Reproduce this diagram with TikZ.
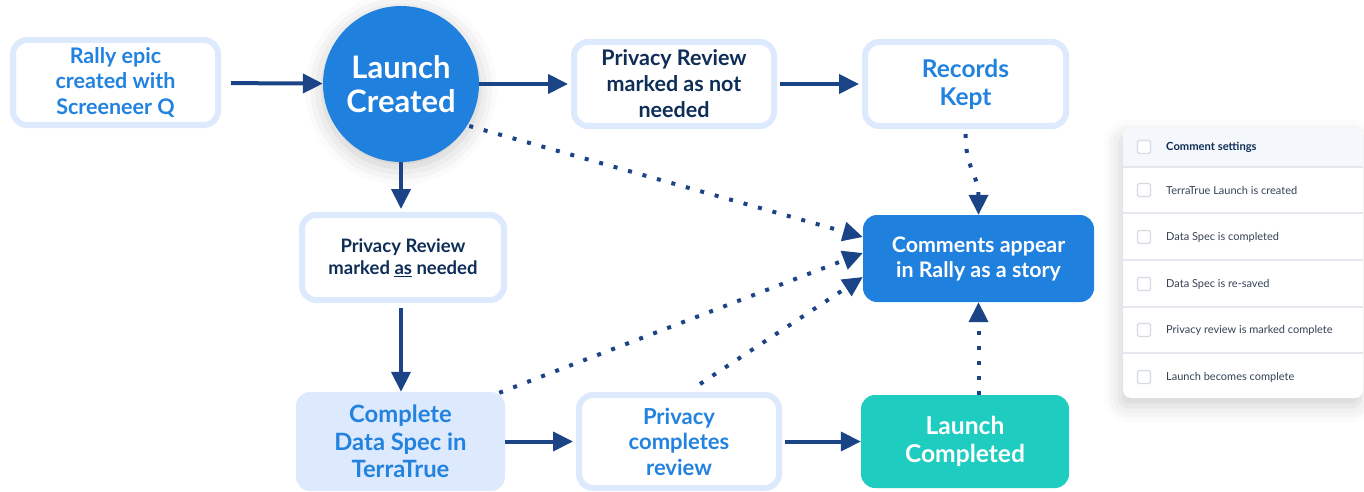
\documentclass[tikz,border=0pt]{standalone}
\usepackage{fontspec}
\setmainfont{Lato}
\usetikzlibrary{arrows.meta,shadows.blur,calc}

\definecolor{brandblue}{RGB}{31,128,222}
\definecolor{textblue}{RGB}{34,130,224}
\definecolor{navy}{RGB}{15,46,87}
\definecolor{arrownavy}{RGB}{27,68,134}
\definecolor{paleblue}{RGB}{221,233,252}
\definecolor{launchteal}{RGB}{30,205,192}
\definecolor{headbg}{RGB}{244,247,251}
\definecolor{rulegray}{RGB}{228,232,238}
\definecolor{boxgray}{RGB}{214,218,225}
\definecolor{paneltext}{RGB}{52,66,86}

\tikzset{
  stepbox/.style={draw=paleblue, line width=6pt, rounded corners=14pt, fill=white,
    inner sep=0pt, align=center},
  solidbox/.style={rounded corners=14pt, inner sep=0pt, align=center},
  arr/.style={draw=arrownavy, line width=4pt, -{Triangle[length=20pt,width=19pt]}},
  dotarr/.style={arr, line cap=butt, dash pattern=on 4pt off 11pt},
  tick/.style={draw=boxgray, line width=1.1pt, rounded corners=1.5pt, fill=white,
    minimum size=13pt, inner sep=0pt},
  rowtext/.style={anchor=west, inner sep=0pt, text=paneltext,
    font=\fontsize{11}{12}\selectfont},
}

\begin{document}
\begin{tikzpicture}[x=1pt,y=-1pt]
\useasboundingbox (0,0) rectangle (1364,492);

% flow nodes
\node[stepbox, minimum width=205pt, minimum height=85pt, text=textblue,
  font=\fontsize{21.5}{25.5}\selectfont\bfseries] (rally) at (115.5,82.5)
  {Rally epic\\created with\\Screeneer Q};

\node[circle, fill=brandblue, minimum size=156pt, inner sep=0pt, text=white, align=center,
  font=\fontsize{31}{34}\selectfont\bfseries,
  blur shadow={shadow xshift=0pt, shadow yshift=-5pt, shadow blur radius=18pt, shadow opacity=22}]
  (launch) at (401,84) {Launch\\Created};

\node[stepbox, minimum width=200pt, minimum height=84pt, text=navy,
  font=\fontsize{21.5}{26}\selectfont\bfseries] (prnn) at (674,84)
  {Privacy Review\\marked as not\\needed};

\node[stepbox, minimum width=201pt, minimum height=84pt, text=textblue,
  font=\fontsize{24.5}{28}\selectfont\bfseries] (rk) at (965.5,84)
  {Records\\Kept};

\node[stepbox, minimum width=202pt, minimum height=85pt, text=navy,
  font=\fontsize{18.5}{22}\selectfont\bfseries] (prneed) at (403,257.5)
  {Privacy Review\\marked \underline{as} needed};

\node[solidbox, fill=brandblue, minimum width=231pt, minimum height=87pt, text=white,
  font=\fontsize{21.4}{25}\selectfont\bfseries] (comments) at (978.5,258.5)
  {Comments appear\\in Rally as a story};

\node[solidbox, fill=paleblue, minimum width=209pt, minimum height=99pt, text=textblue,
  font=\fontsize{23.8}{27.5}\selectfont\bfseries] (ds) at (400.5,441.5)
  {Complete\\Data Spec in\\TerraTrue};

\node[stepbox, minimum width=200pt, minimum height=93pt, text=textblue,
  font=\fontsize{22}{25.5}\selectfont\bfseries] (pc) at (679,441.5)
  {Privacy\\completes\\review};

\node[solidbox, fill=launchteal, minimum width=208pt, minimum height=93pt, text=white,
  font=\fontsize{24.6}{28.5}\selectfont\bfseries] (lc) at (965,441.5)
  {Launch\\Completed};

% solid connectors
\draw[arr, shorten <=10pt] (rally) -- (launch);
\draw[arr, shorten >=3pt] (launch) -- (prnn);
\draw[arr, shorten <=3pt, shorten >=3pt] (prnn) -- (rk);
\draw[arr, shorten >=3pt] (launch.south) -- (launch.south |- prneed.north);
\draw[arr, shorten <=5pt] (prneed.south -| launch.south) -- (ds.north -| launch.south);
\draw[arr, shorten >=3pt] (ds) -- (pc);
\draw[arr, shorten <=3pt] (pc) -- (lc);

% dotted connectors into the comments node
\draw[dotarr, shorten <=2pt] (launch.-32) -- ([yshift=21.5pt]comments.west);
\draw[dotarr] ([xshift=-6pt,yshift=-1pt]ds.north east) -- ([yshift=5.5pt]comments.west);
\draw[dotarr] ([xshift=21pt,yshift=8pt]pc.north) -- ([yshift=-18.5pt]comments.west);
\draw[dotarr, shorten <=5pt] (rk.south) .. controls +(0,40) and +(0,-40) .. (comments.north);
\draw[dotarr] (comments.south |- lc.north) -- (comments.south);

% comment settings panel
\fill[white, rounded corners=8pt,
  blur shadow={shadow xshift=-3pt, shadow yshift=-8pt, shadow blur radius=16pt, shadow opacity=18}]
  (1123,128) rectangle (1363,398);
\begin{scope}
  \clip[rounded corners=8pt] (1123,128) rectangle (1363,398);
  \fill[headbg] (1123,128) rectangle (1363,167);
  \foreach \ry in {167,213,260,307,353}
    \draw[rulegray, line width=1.2pt] (1123,\ry) -- (1363,\ry);
\end{scope}

\node[tick] (hbox) at (1144,147) {};
\node[rowtext, font=\fontsize{11.2}{12}\selectfont\bfseries, text=navy] (htext) at (1166,147)
  {Comment settings};
\foreach \ry/\rt [count=\i] in {190/TerraTrue Launch is created,
    237/Data Spec is completed, 284/Data Spec is re-saved,
    330/Privacy review is marked complete, 377/Launch becomes complete} {
  \node[tick] (rbox\i) at (1144,\ry) {};
  \node[rowtext] (rtext\i) at (1166,\ry) {\rt};
}
\end{tikzpicture}
\end{document}
